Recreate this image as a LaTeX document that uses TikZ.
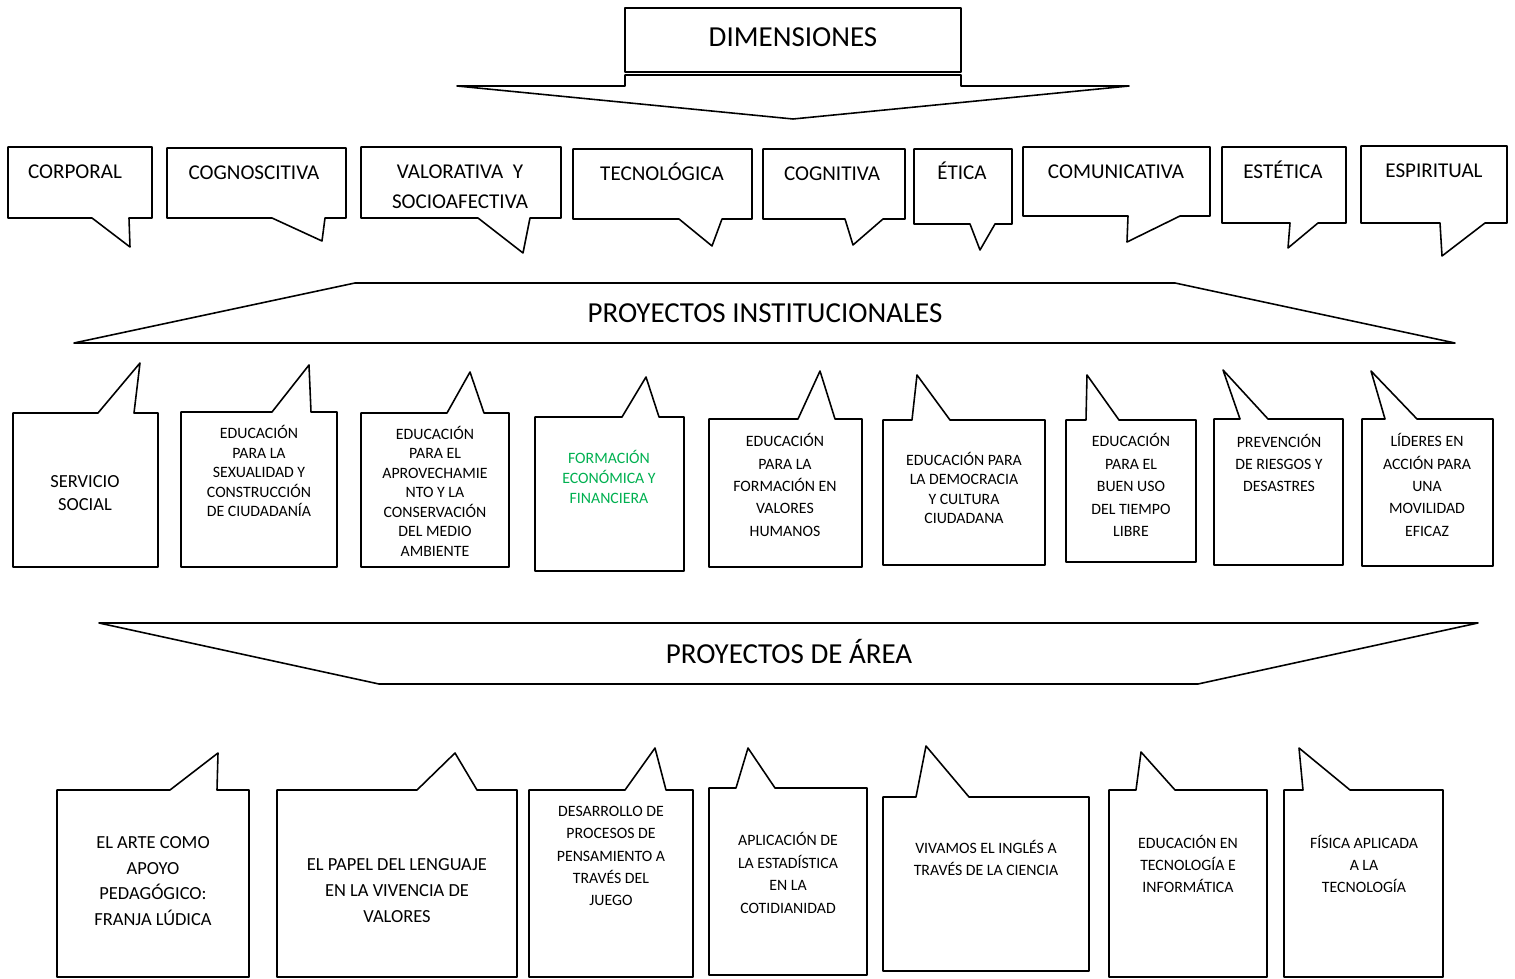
\documentclass[tikz,border=0pt]{standalone}
\usepackage{fontspec}
\setmainfont{Carlito}
\usepackage{tikz}
\definecolor{verde}{RGB}{0,176,80}
\tikzset{
  caja/.style={line width=0.9pt, line join=round},
  titulo/.style={font=\fontsize{16.5}{20}\selectfont},
  dim/.style={font=\fontsize{12}{17}\selectfont, align=center},
  proy/.style={font=\fontsize{9}{#1}\selectfont, align=center},
  proy/.default=11.1,
  grande/.style={font=\fontsize{10.5}{#1}\selectfont, align=center},
  grande/.default=14.6
}

\begin{document}
\begin{tikzpicture}[x=0.02cm, y=-0.02cm]
    \useasboundingbox (0,0) rectangle (1515,979);

    % dimensiones
    \draw[caja] (625,8) rectangle (961,72);
    \draw[caja] (457,86) -- (625,86) -- (625,75) -- (961,75) -- (961,86) -- (1129,86) -- (793,119) -- cycle;
    \node[titulo] (dimensiones) at (793,37) {DIMENSIONES};

    \draw[caja] (8,147) -- (152,147) -- (152,218) -- (129,218) -- (130,247) -- (92,218) -- (8,218) -- cycle;
    \draw[caja] (167,148) -- (346,148) -- (346,218) -- (325,218) -- (322,241) -- (272,218) -- (167,218) -- cycle;
    \draw[caja] (361,147) -- (561,147) -- (561,218) -- (530,218) -- (523,253) -- (478,218) -- (361,218) -- cycle;
    \draw[caja] (573,149) -- (752,149) -- (752,219) -- (722,219) -- (712,246) -- (679,219) -- (573,219) -- cycle;
    \draw[caja] (763,149) -- (905,149) -- (905,219) -- (883,219) -- (853,245) -- (845,219) -- (763,219) -- cycle;
    \draw[caja] (914,149) -- (1012,149) -- (1012,224) -- (995,224) -- (980,250) -- (970,224) -- (914,224) -- cycle;
    \draw[caja] (1023,147) -- (1210,147) -- (1210,216) -- (1180,216) -- (1127,242) -- (1128,216) -- (1023,216) -- cycle;
    \draw[caja] (1222,147) -- (1346,147) -- (1346,223) -- (1318,223) -- (1288,248) -- (1290,223) -- (1222,223) -- cycle;
    \draw[caja] (1361,146) -- (1507,146) -- (1507,223) -- (1485,223) -- (1442,256) -- (1440,223) -- (1361,223) -- cycle;

    \node[dim] (corporal) at (75,172) {CORPORAL};
    \node[dim] (cognoscitiva) at (254,173) {COGNOSCITIVA};
    \node[dim] (valorativa) at (460,187) {VALORATIVA\ \ Y\\SOCIOAFECTIVA};
    \node[dim] (tecnologica) at (662,172) {TECNOLÓGICA};
    \node[dim] (cognitiva) at (832,174) {COGNITIVA};
    \node[dim] (etica) at (962,171) {ÉTICA};
    \node[dim] (comunicativa) at (1116,172) {COMUNICATIVA};
    \node[dim] (estetica) at (1283,170) {ESTÉTICA};
    \node[dim] (espiritual) at (1434,171) {ESPIRITUAL};

    % proyectos institucionales
    \draw[caja] (74,343) -- (355,283) -- (1175,283) -- (1455,343) -- cycle;
    \node[titulo] (institucionales) at (765,313) {PROYECTOS INSTITUCIONALES};

    \draw[caja] (13,413) -- (98,413) -- (140,363) -- (134,413) -- (158,413) -- (158,567) -- (13,567) -- cycle;
    \draw[caja] (181,412) -- (272,412) -- (309,365) -- (311,412) -- (337,412) -- (337,567) -- (181,567) -- cycle;
    \draw[caja] (361,413) -- (447,413) -- (470,372) -- (484,413) -- (509,413) -- (509,567) -- (361,567) -- cycle;
    \draw[caja] (535,417) -- (622,417) -- (646,377) -- (659,417) -- (684,417) -- (684,571) -- (535,571) -- cycle;
    \draw[caja] (709,419) -- (798,419) -- (820,371) -- (835,419) -- (862,419) -- (862,567) -- (709,567) -- cycle;
    \draw[caja] (883,420) -- (912,420) -- (917,375) -- (950,420) -- (1045,420) -- (1045,565) -- (883,565) -- cycle;
    \draw[caja] (1066,420) -- (1086,420) -- (1087,375) -- (1119,420) -- (1196,420) -- (1196,562) -- (1066,562) -- cycle;
    \draw[caja] (1214,419) -- (1240,419) -- (1223,370) -- (1268,419) -- (1343,419) -- (1343,565) -- (1214,565) -- cycle;
    \draw[caja] (1362,419) -- (1385,419) -- (1371,371) -- (1417,419) -- (1493,419) -- (1493,566) -- (1362,566) -- cycle;

    \node[grande=13] (servicio) at (85,493) {SERVICIO\\SOCIAL};
    \node[proy] (sexualidad) at (259,471) {EDUCACIÓN\\PARA LA\\SEXUALIDAD Y\\CONSTRUCCIÓN\\DE CIUDADANÍA};
    \node[proy] (ambiente) at (435,491) {EDUCACIÓN\\PARA EL\\APROVECHAMIE\\NTO Y LA\\CONSERVACIÓN\\DEL MEDIO\\AMBIENTE};
    \node[proy=11.3, text=verde] (financiera) at (609,477) {FORMACIÓN\\ECONÓMICA Y\\FINANCIERA};
    \node[proy=12.75] (valores) at (785,485) {EDUCACIÓN\\PARA LA\\FORMACIÓN EN\\VALORES\\HUMANOS};
    \node[proy] (democracia) at (964,488) {EDUCACIÓN PARA\\LA DEMOCRACIA\\Y CULTURA\\CIUDADANA};
    \node[proy=12.75] (tiempolibre) at (1131,485) {EDUCACIÓN\\PARA EL\\BUEN USO\\DEL TIEMPO\\LIBRE};
    \node[proy=12.75] (riesgos) at (1279,463) {PREVENCIÓN\\DE RIESGOS Y\\DESASTRES};
    \node[proy=12.75] (movilidad) at (1427,485) {LÍDERES EN\\ACCIÓN PARA\\UNA\\MOVILIDAD\\EFICAZ};

    % proyectos de area
    \draw[caja] (99,623) -- (1478,623) -- (1198,684) -- (379,684) -- cycle;
    \node[titulo] (area) at (789,651) {PROYECTOS DE ÁREA};

    \draw[caja] (57,790) -- (170,790) -- (218,753) -- (217,790) -- (249,790) -- (249,977) -- (57,977) -- cycle;
    \draw[caja] (277,790) -- (417,790) -- (455,753) -- (477,790) -- (517,790) -- (517,977) -- (277,977) -- cycle;
    \draw[caja] (529,790) -- (625,790) -- (655,748) -- (666,790) -- (693,790) -- (693,977) -- (529,977) -- cycle;
    \draw[caja] (709,788) -- (736,788) -- (748,748) -- (775,788) -- (867,788) -- (867,975) -- (709,975) -- cycle;
    \draw[caja] (883,797) -- (916,797) -- (926,746) -- (969,797) -- (1089,797) -- (1089,971) -- (883,971) -- cycle;
    \draw[caja] (1109,790) -- (1136,790) -- (1141,752) -- (1175,790) -- (1267,790) -- (1267,977) -- (1109,977) -- cycle;
    \draw[caja] (1284,790) -- (1303,790) -- (1299,748) -- (1350,790) -- (1443,790) -- (1443,977) -- (1284,977) -- cycle;

    \node[grande] (arte) at (153,881) {EL ARTE COMO\\APOYO\\PEDAGÓGICO:\\FRANJA LÚDICA};
    \node[grande=14.8] (lenguaje) at (397,891) {EL PAPEL DEL LENGUAJE\\EN LA VIVENCIA DE\\VALORES};
    \node[proy=12.75] (pensamiento) at (611,856) {DESARROLLO DE\\PROCESOS DE\\PENSAMIENTO A\\TRAVÉS DEL\\JUEGO};
    \node[proy=12.75] (estadistica) at (788,873) {APLICACIÓN DE\\LA ESTADÍSTICA\\EN LA\\COTIDIANIDAD};
    \node[proy=12.75] (ingles) at (986,858) {VIVAMOS EL INGLÉS A\\TRAVÉS DE LA CIENCIA};
    \node[proy=12.75] (informatica) at (1188,864) {EDUCACIÓN EN\\TECNOLOGÍA E\\INFORMÁTICA};
    \node[proy=12.75] (fisica) at (1364,864) {FÍSICA APLICADA\\A LA\\TECNOLOGÍA};
\end{tikzpicture}
\end{document}
